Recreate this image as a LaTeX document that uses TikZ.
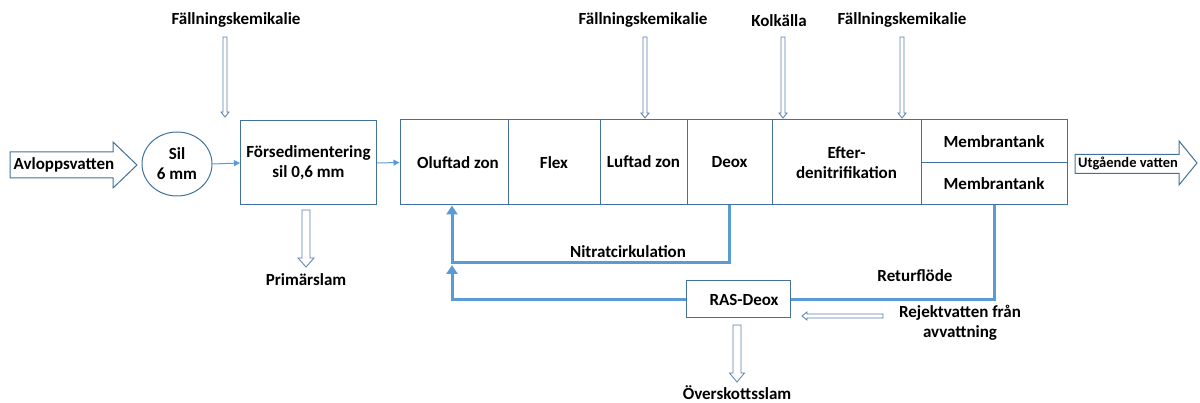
\documentclass[tikz,border=0pt]{standalone}
\usepackage{fontspec}
\setmainfont{Carlito}
\usetikzlibrary{arrows.meta,calc,shapes.geometric}
\definecolor{boxc}{HTML}{41719C}
\definecolor{flowc}{HTML}{5B9BD5}
\definecolor{holc}{HTML}{5A7FAE}
\newcommand\hdown[5]{% start, end, half shaft, half head, head length
  \draw[hol] let \p1=(#1), \p2=(#2) in
    (\x1-#3,\y1) -- (\x1+#3,\y1) -- (\x1+#3,\y2+#5) -- (\x1+#4,\y2+#5) -- (\x1,\y2)
    -- (\x1-#4,\y2+#5) -- (\x1-#3,\y2+#5) -- cycle;}
\newcommand\hleft[5]{% start, end, half shaft, half head, head length
  \draw[hol] let \p1=(#1), \p2=(#2) in
    (\x1,\y1+#3) -- (\x1,\y1-#3) -- (\x2+#5,\y1-#3) -- (\x2+#5,\y1-#4) -- (\x2,\y1)
    -- (\x2+#5,\y1+#4) -- (\x2+#5,\y1+#3) -- cycle;}
\begin{document}
\begin{tikzpicture}[x=1pt,y=-1pt,
  every node/.style={font=\fontsize{17}{20}\selectfont\bfseries, text=black},
  box/.style={draw=boxc, line width=1pt, rectangle, inner sep=0pt, align=center},
  cell/.style={box, minimum height=85pt},
  hol/.style={draw=holc, line width=0.8pt, fill=white},
  blk/.style={draw=boxc, line width=1pt, fill=white},
  thinarrow/.style={draw=flowc, line width=1pt, -{Triangle[width=6pt,length=6pt]}},
  flow/.style={draw=flowc, line width=3pt},
  flowarrow/.style={flow, -{Triangle[width=11pt,length=9pt]}},
  lbl/.style={inner sep=0pt, align=center}]
\useasboundingbox (0,0) rectangle (1200,403);

% block arrow in
\draw[blk] (10,152) -- (113,152) -- (113,142) -- (137,165) -- (113,188) -- (113,178) -- (10,178) -- cycle;
\node[lbl] (avl) at (64,165) {Avloppsvatten};

% sil
\node[draw=boxc, line width=1pt, ellipse, minimum width=70pt, minimum height=64pt, inner sep=0pt, align=center] (sil) at (177,164) {Sil\\6 mm};

% forsedimentering
\node[box, minimum width=136pt, minimum height=84pt] (fors) at (308.5,163) {Försedimentering\\sil 0,6 mm};

% main cells
\node[cell, minimum width=108pt] (olu) at (454,162.5) {\hspace*{8pt}Oluftad zon};
\node[cell, minimum width=92pt] (flex) at (554,162.5) {Flex};
\node[cell, minimum width=87pt] (luft) at (643.5,162.5) {\raisebox{2pt}{Luftad zon}};
\node[cell, minimum width=85pt] (deox) at (729.5,162.5) {\raisebox{2pt}{Deox}};
\node[cell, minimum width=149pt] (eft) at (846.5,162.5) {Efter-\\denitrifikation};
\node[box, minimum width=146pt, minimum height=42.5pt] (mem1) at (994,141.25) {Membrantank};
\node[box, minimum width=146pt, minimum height=42.5pt] (mem2) at (994,183.75) {Membrantank};

% block arrow out
\draw[blk] (1075,154.5) -- (1179,154.5) -- (1179,141) -- (1197,163) -- (1179,185) -- (1179,173.5) -- (1075,173.5) -- cycle;
\node[lbl, font=\fontsize{14.5}{16}\selectfont\bfseries] (utg) at (1128,163) {Utgående vatten};

% thin flow arrows
\draw[thinarrow] (sil.east) -- (fors.west);
\draw[thinarrow] (fors.east) -- (olu.west);

% top labels and dosing arrows
\node[lbl] (fk1) at (236,20) {Fällningskemikalie};
\node[lbl] (fk2) at (643,20) {Fällningskemikalie};
\node[lbl] (kol) at (779,21) {Kolkälla};
\node[lbl] (fk3) at (902,20) {Fällningskemikalie};
\coordinate (fk1s) at (225,37); \coordinate (fk1e) at (225,117);
\coordinate (fk2s) at (645,37); \coordinate (fk2e) at (645,118);
\coordinate (kols) at (783,37); \coordinate (kole) at (783,118);
\coordinate (fk3s) at (902,37); \coordinate (fk3e) at (902,118);
\hdown{fk1s}{fk1e}{2}{4}{5}
\hdown{fk2s}{fk2e}{2}{4}{5}
\hdown{kols}{kole}{2}{4}{5}
\hdown{fk3s}{fk3e}{2}{4}{5}

% primarslam
\node[lbl] (prim) at (306,280) {Primärslam};
\coordinate (ps) at (306,210); \coordinate (pe) at (306,267);
\hdown{ps}{pe}{4}{8}{9}

% recirculations
\coordinate (n1) at (729,205);
\coordinate (nc) at (452,263);
\draw[flowarrow] (n1) |- (nc) -- (olu.south -| nc);
\node[lbl] (nitr) at (628,252) {Nitratcirkulation};

\node[box, minimum width=104pt, minimum height=37pt] (ras) at (738,299.5) {\hspace*{12pt}RAS-Deox};
\draw[flow] (mem2.south) |- (ras.east);
\draw[flowarrow] (ras.west) -| ($(nc)+(0,2)$);
\node[lbl] (ret) at (915,276) {Returflöde};

% rejektvatten
\node[lbl] (rej) at (960,323) {Rejektvatten från\\avvattning};
\coordinate (rs) at (883,316); \coordinate (re) at (802,316);
\hleft{rs}{re}{2}{4}{5}

% overskottsslam
\coordinate (os) at (737,325); \coordinate (oe) at (737,382);
\hdown{os}{oe}{4}{7.5}{9}
\node[lbl] (over) at (737,393) {Överskottsslam};
\end{tikzpicture}
\end{document}
